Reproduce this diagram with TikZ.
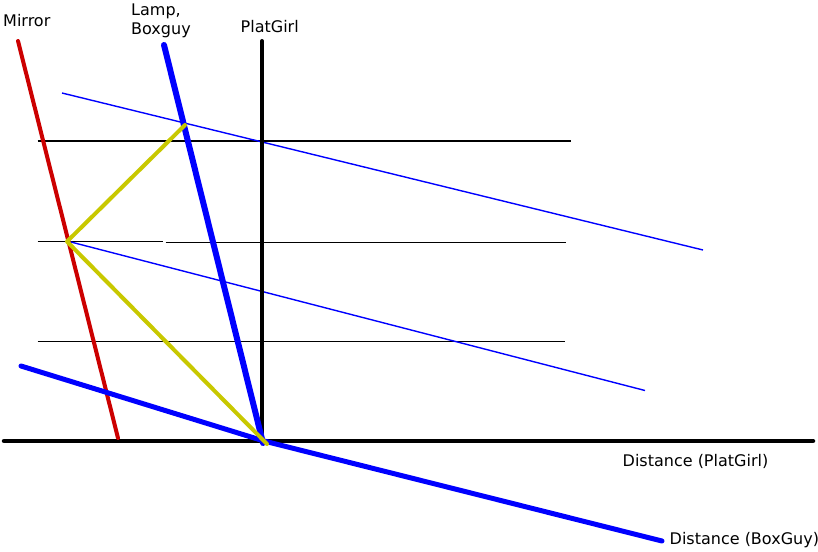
\documentclass[tikz,border=0pt]{standalone}
\usepackage{fontspec}
\setmainfont{DejaVu Sans}
\definecolor{mirrorred}{HTML}{CC0000}
\definecolor{rayyellow}{HTML}{C8C800}
\definecolor{lineblue}{HTML}{0000FF}
\begin{document}
\begin{tikzpicture}[x=1pt,y=-1pt,
  lbl/.style={anchor=base west,inner sep=0pt,font=\fontsize{16}{20}\selectfont},
  thinblack/.style={draw=black,line width=1.5pt},
  thinblue/.style={draw=lineblue,line width=1.4pt},
  axisline/.style={draw=black,line width=4.5pt,line cap=round},
  mirrorline/.style={draw=mirrorred,line width=4pt,line cap=round},
  thickblue/.style={draw=lineblue,line width=5.5pt,line cap=round,line join=round},
  rayline/.style={draw=rayyellow,line width=4pt,line cap=round,line join=round}]
\useasboundingbox (0,0) rectangle (818,551);
% coordinates
\coordinate (ax1) at (4,441);
\coordinate (ax2) at (813,441);
\coordinate (pg1) at (262,41);
\coordinate (pg2) at (262,441);
\coordinate (mr1) at (18,41);
\coordinate (mr2) at (118,438);
\coordinate (lb1) at (164,45);
\coordinate (lb2) at (263,443);
\coordinate (bg1) at (21,366);
\coordinate (bgm) at (264,441);
\coordinate (bg2) at (662,541);
\coordinate (tb1a) at (62,93);
\coordinate (tb1b) at (703,250);
\coordinate (tb2a) at (67,241);
\coordinate (tb2b) at (645,390.5);
\coordinate (h1a) at (37.5,141);
\coordinate (h1b) at (570.5,141);
\coordinate (h2a) at (37.5,241.7);
\coordinate (h2b) at (162.5,241.7);
\coordinate (h3a) at (165.5,242.7);
\coordinate (h3b) at (565.5,242.7);
\coordinate (h4a) at (37.5,341.5);
\coordinate (h4b) at (564.5,341.5);
\coordinate (y1) at (185,125);
\coordinate (y2) at (67,241.5);
\coordinate (y3) at (267,444);
% thin horizontals
\draw[thinblack] (h1a) -- (h1b);
\draw[thinblack] (h2a) -- (h2b);
\draw[thinblack] (h3a) -- (h3b);
\draw[thinblack] (h4a) -- (h4b);
% thin blue
\draw[thinblue] (tb1a) -- (tb1b);
\draw[thinblue] (tb2a) -- (tb2b);
% axes
\draw[axisline] (ax1) -- (ax2);
\draw[axisline,line width=4pt] (pg1) -- (pg2);
% mirror
\draw[mirrorline] (mr1) -- (mr2);
% lamp / boxguy
\draw[thickblue,line width=6pt] (lb1) -- (lb2);
\draw[thickblue,line width=5pt] (bg1) -- (bgm) -- (bg2);
% yellow ray
\draw[rayline] (y1) -- (y2) -- (y3);
% labels
\node[lbl] (mirror) at (3,27) {Mirror};
\node[lbl] (lamp) at (131,15.5) {Lamp,};
\node[lbl] (boxguy) at (131,35) {Boxguy};
\node[lbl] (platgirl) at (240.5,32.3) {PlatGirl};
\node[lbl] (distpg) at (622.5,466.5) {Distance (PlatGirl)};
\node[lbl] (distbg) at (669.5,544) {Distance (BoxGuy)};
\end{tikzpicture}
\end{document}
